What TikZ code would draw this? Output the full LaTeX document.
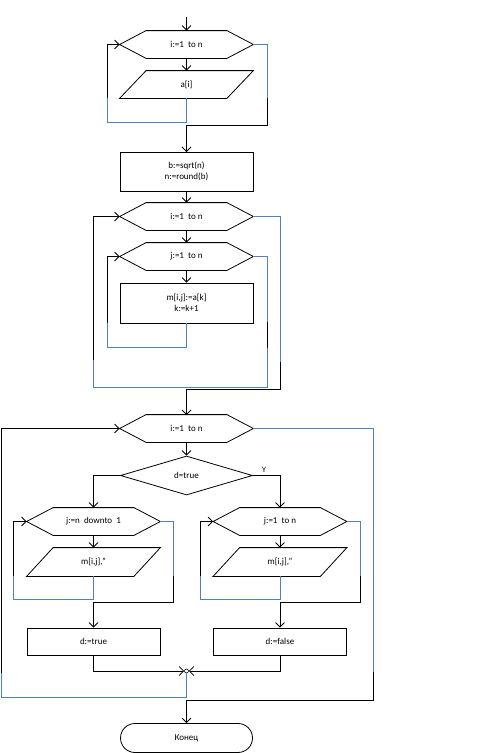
\documentclass[tikz,border=0pt]{standalone}
\usepackage{fontspec}
\setmainfont{Carlito}
\usetikzlibrary{arrows.meta,shapes.geometric}
\definecolor{loopblue}{RGB}{79,129,189}
\tikzset{
  flow/.style={minimum width=133pt, inner sep=0pt, align=center,
    font=\fontsize{9}{10.5}\selectfont},
  hexbox/.style={flow, minimum height=27pt},
  iobox/.style={flow, minimum height=27pt},
  opbox/.style={flow, draw, minimum height=39pt},
  arr/.style={-{Straight Barb[length=4.5pt,width=9pt]}},
  bl/.style={draw=loopblue},
}
% hexagon and parallelogram drawn round a node
\newcommand{\drawhex}[1]{\draw (#1.west) -- ([xshift=26.5pt]#1.north west)
  -- ([xshift=-26.5pt]#1.north east) -- (#1.east)
  -- ([xshift=-26.5pt]#1.south east) -- ([xshift=26.5pt]#1.south west) -- cycle;}
\newcommand{\drawpara}[1]{\draw (#1.south west) -- ([xshift=-26.5pt]#1.south east)
  -- (#1.north east) -- ([xshift=26.5pt]#1.north west) -- cycle;}
\begin{document}
\begin{tikzpicture}[x=1pt, y=-1pt, line width=0.8pt]
\useasboundingbox (0,0) rectangle (487,753);
% first loop: read a
\coordinate (start) at (186.5,17);
\node[hexbox] (h1) at (186.5,44.5) {i:=1 \ to n};
\node[iobox] (p1) at (186.5,84.5) {a[i]};
\drawhex{h1}
\drawpara{p1}
\draw[arr] (start) -- (h1.north);
\draw[arr] (h1.south) -- (p1.north);
\draw[arr] (p1.south) |- (107,122) |- (h1.west);
\draw[bl] (p1.south) |- (107,122) -- (107,98);
\draw[arr] (h1.east) -| (267,125) -| (186.5,152);
\draw[bl] (h1.east) -| (267,98);
% size of matrix
\node[opbox] (b1) at (186.5,171.5) {b:=sqrt(n)\\n:=round(b)};
% fill matrix
\node[hexbox] (h2) at (186.5,216.5) {i:=1 \ to n};
\node[hexbox] (h3) at (186.5,256.5) {j:=1 \ to n};
\node[opbox, minimum height=40pt] (b2) at (186.5,303) {m[i,j]:=a[k]\\k:=k+1};
\drawhex{h2}
\drawhex{h3}
\draw[arr] (b1.south) -- (h2.north);
\draw[arr] (h2.south) -- (h3.north);
\draw[arr] (h3.south) -- (b2.north);
\draw[arr] (b2.south) |- (107,347) |- (h3.west);
\draw[bl] (b2.south) |- (107,347) -- (107,323);
\draw[arr] (h3.east) -| (267,387) -- (93,387) |- (h2.west);
\draw[bl] (h3.east) -| (267,322);
\draw[bl] (267,348) -- (267,387) -- (93,387) -- (93,360);
\draw[arr] (h2.east) -| (280,389) -| (186.5,415);
\draw[bl] (h2.east) -| (280,362);
% print matrix
\node[hexbox] (h4) at (186.5,428.5) {i:=1 \ to n};
\node[diamond, flow, minimum width=132pt, minimum height=39pt, draw] (dd) at (186.5,475.5) {d=true};
\node[font=\fontsize{8}{9}\selectfont, inner sep=0pt] (yes) at (264,470) {Y};
\drawhex{h4}
\draw[arr] (h4.south) -- (dd.north);
\node[hexbox] (h5) at (93.5,521.5) {j:=n \ downto \ 1};
\node[hexbox] (h6) at (280,521.5) {j:=1 \ to n};
\node[iobox, minimum height=28pt] (p2) at (93.5,562) {m[i,j],''};
\node[iobox, minimum height=28pt] (p3) at (280,562) {m[i,j],''};
\drawhex{h5}
\drawhex{h6}
\drawpara{p2}
\drawpara{p3}
\draw[arr] (dd.west) -| (h5.north);
\draw[arr] (dd.east) -| (h6.north);
\draw[arr] (h5.south) -- (p2.north);
\draw[arr] (h6.south) -- (p3.north);
\draw[arr] (p2.south) |- (13,599) |- (h5.west);
\draw[bl] (p2.south) |- (13,599) -- (13,576);
\draw[arr] (p3.south) |- (200,599) |- (h6.west);
\draw[bl] (p3.south) |- (200,599) -- (200,576);
\node[opbox, minimum height=27pt] (b3) at (93.5,641.5) {d:=true};
\node[opbox, minimum height=27pt] (b4) at (280,641.5) {d:=false};
\draw[arr] (h5.east) -| (173,602) -| (b3.north);
\draw[bl] (h5.east) -| (173,576);
\draw[arr] (h6.east) -| (360,602) -| (b4.north);
\draw[bl] (h6.east) -| (360,576);
% merge and back to outer loop
\node[circle, draw, inner sep=0pt, minimum size=4pt, line width=0.6pt] (jn) at (186.5,671) {};
\draw[arr] (b3.south) |- (jn);
\draw[arr] (b4.south) |- (jn);
\draw[arr] (jn) |- (1,697) |- (h4.west);
\draw[bl] (jn) |- (1,697) -- (1,673);
% end
\node[flow, draw, rounded corners=14.5pt, minimum width=132pt, minimum height=29pt] (term) at (186.5,738) {Конец};
\draw[arr] (h4.east) -| (373,700) -| (term.north);
\draw[bl] (h4.east) -| (373,672);
\end{tikzpicture}
\end{document}
